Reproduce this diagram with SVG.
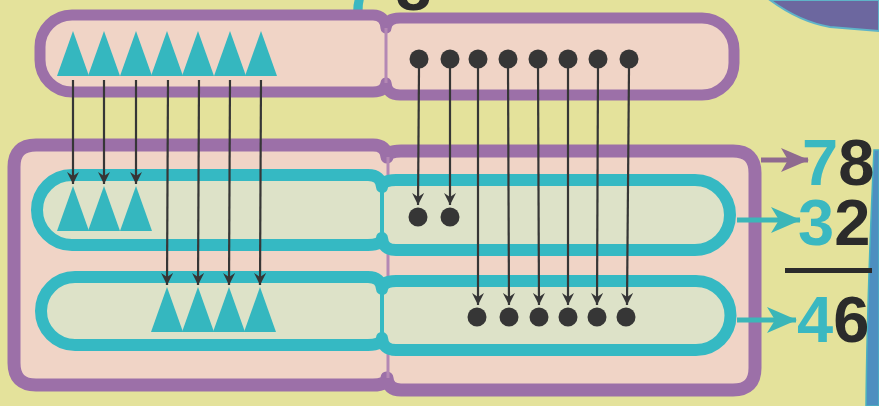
<svg xmlns="http://www.w3.org/2000/svg" width="879" height="406" viewBox="0 0 879 406">
<style>
.cell{fill:#f0d4c6;stroke:#9c70a8;stroke-linejoin:round}
.row{fill:#dde2c8;stroke:#35b9c3;stroke-width:12;stroke-linejoin:round}
.pdiv{stroke:#b488b4;stroke-width:3}
.tdiv{stroke:#35b9c3;stroke-width:4}
.tri{fill:#35b7bf}
.dot{fill:#363636}
.conn line{stroke:#363636;stroke-width:2.2;marker-end:url(#ah)}
.num{font-family:"Liberation Sans",Arial,sans-serif;font-weight:bold;font-size:65px}
.t{fill:#3ab8c1}
.k{fill:#2b2b2b}
</style>
<defs>
<marker id="ah" markerUnits="userSpaceOnUse" markerWidth="12" markerHeight="12" viewBox="0 0 12 12" refX="12" refY="6" orient="auto"><path d="M0,0 L12,6 L0,12 L4,6 Z" fill="#363636"/></marker>
<marker id="ahp" markerUnits="userSpaceOnUse" markerWidth="28" markerHeight="24" viewBox="0 0 28 24" refX="27" refY="12" orient="auto"><path d="M0,0 L28,12 L0,24 L7,12 Z" fill="#8f6a8f"/></marker>
<marker id="aht" markerUnits="userSpaceOnUse" markerWidth="30" markerHeight="26" viewBox="0 0 30 26" refX="29" refY="13" orient="auto"><path d="M0,0 L30,13 L0,26 L8,13 Z" fill="#3bb6b8"/></marker>
<path id="tri" d="M0,0 L16,45 L-16,45 Z"/>
</defs>
<rect width="879" height="406" fill="#e4e29b"/>
<path d="M770 0 Q800 22 830 27 L879 31 L879 0 Z" fill="#6c679f" stroke="#5fb3c8" stroke-width="2"/>
<path d="M874 150 L879 150 L879 406 L866 406 Q867 300 874 150 Z" fill="#4d8fc0" stroke="#49b2c0" stroke-width="1.5"/>
<text class="num" x="344" y="10"><tspan class="t">7</tspan><tspan class="k" dx="15">8</tspan></text>

<g id="top-cell">
<path class="cell" stroke-width="11" d="M72 15 L373 15 Q385 15 386 28 Q387 18 400 18 L702 18 A32 32 0 0 1 734 50 L734 63 A32 32 0 0 1 702 95 L400 95 Q387 95 386 83 Q385 92 373 92 L72 92 A32 32 0 0 1 40 60 L40 47 A32 32 0 0 1 72 15 Z"/>
<line class="pdiv" x1="386" y1="28" x2="386" y2="83"/>
<use href="#tri" class="tri" x="73" y="31"/><use href="#tri" class="tri" x="104" y="31"/><use href="#tri" class="tri" x="136" y="31"/><use href="#tri" class="tri" x="167" y="31"/><use href="#tri" class="tri" x="198" y="31"/><use href="#tri" class="tri" x="230" y="31"/><use href="#tri" class="tri" x="261" y="31"/>
<circle class="dot" cx="419" cy="59" r="9.5"/><circle class="dot" cx="450" cy="59" r="9.5"/><circle class="dot" cx="478" cy="59" r="9.5"/><circle class="dot" cx="508" cy="59" r="9.5"/><circle class="dot" cx="538" cy="59" r="9.5"/><circle class="dot" cx="568" cy="59" r="9.5"/><circle class="dot" cx="598" cy="59" r="9.5"/><circle class="dot" cx="629" cy="59" r="9.5"/>
</g>

<g id="bottom-cell">
<path class="cell" stroke-width="13" d="M36 145 L373 145 Q386 145 387 157 Q388 151 401 151 L733 151 Q755 151 755 173 L755 368 Q755 390 733 390 L401 390 Q388 390 387 378 Q386 385 373 385 L36 385 Q14 385 14 363 L14 167 Q14 145 36 145 Z"/>
<line class="pdiv" x1="388" y1="157" x2="388" y2="378"/>
</g>

<g id="row-1">
<path class="row" d="M72 175 L368 175 Q381 175 382 187 Q383 180 396 180 L695 180 A35 35 0 0 1 695 250 L396 250 Q383 250 382 238 Q381 245 368 245 L72 245 A35 35 0 0 1 72 175 Z"/>
<line class="tdiv" x1="382" y1="187" x2="382" y2="238"/>
<use href="#tri" class="tri" x="73" y="186"/><use href="#tri" class="tri" x="104" y="186"/><use href="#tri" class="tri" x="136" y="186"/>
<circle class="dot" cx="418" cy="217" r="9.5"/><circle class="dot" cx="450" cy="217" r="9.5"/>
</g>

<g id="row-2">
<path class="row" d="M75 277 L368 277 Q381 277 382 289 Q383 281 396 281 L696 281 A34.5 34.5 0 0 1 696 350 L396 350 Q383 350 382 338 Q381 345 368 345 L75 345 A34 34 0 0 1 75 277 Z"/>
<line class="tdiv" x1="382" y1="289" x2="382" y2="338"/>
<use href="#tri" class="tri" x="167" y="287"/><use href="#tri" class="tri" x="198" y="287"/><use href="#tri" class="tri" x="229" y="287"/><use href="#tri" class="tri" x="260" y="287"/>
<circle class="dot" cx="477" cy="317" r="9.5"/><circle class="dot" cx="509" cy="317" r="9.5"/><circle class="dot" cx="539" cy="317" r="9.5"/><circle class="dot" cx="568" cy="317" r="9.5"/><circle class="dot" cx="597" cy="317" r="9.5"/><circle class="dot" cx="626" cy="317" r="9.5"/>
</g>

<g id="connectors">
<g class="conn">
<line x1="73" y1="80" x2="73" y2="184"/><line x1="104" y1="80" x2="104" y2="184"/><line x1="136" y1="80" x2="136" y2="184"/>
<line x1="168" y1="80" x2="167" y2="285"/><line x1="199" y1="80" x2="198" y2="285"/><line x1="230" y1="80" x2="229" y2="285"/><line x1="261" y1="80" x2="260" y2="285"/>
<line x1="419" y1="68" x2="418" y2="205"/><line x1="450" y1="68" x2="450" y2="205"/>
<line x1="478" y1="68" x2="478" y2="305"/><line x1="508" y1="68" x2="509" y2="305"/><line x1="538" y1="68" x2="539" y2="305"/><line x1="568" y1="68" x2="568" y2="305"/><line x1="598" y1="68" x2="597" y2="305"/><line x1="629" y1="68" x2="627" y2="305"/>
</g>
<line x1="761" y1="160" x2="808" y2="160" stroke="#8f6a8f" stroke-width="5" marker-end="url(#ahp)"/>
<line x1="737" y1="220" x2="800" y2="220" stroke="#3bb6b8" stroke-width="5" marker-end="url(#aht)"/>
<line x1="737" y1="320" x2="796" y2="320" stroke="#3bb6b8" stroke-width="5" marker-end="url(#aht)"/>
</g>

<g id="numbers">
<text class="num" x="802" y="185"><tspan class="t">7</tspan><tspan class="k">8</tspan></text>
<text class="num" x="798" y="245"><tspan class="t">3</tspan><tspan class="k">2</tspan></text>
<rect x="785" y="268" width="87" height="5" fill="#2b2b2b"/>
<text class="num" x="797" y="342"><tspan class="t">4</tspan><tspan class="k">6</tspan></text>
</g>
</svg>
